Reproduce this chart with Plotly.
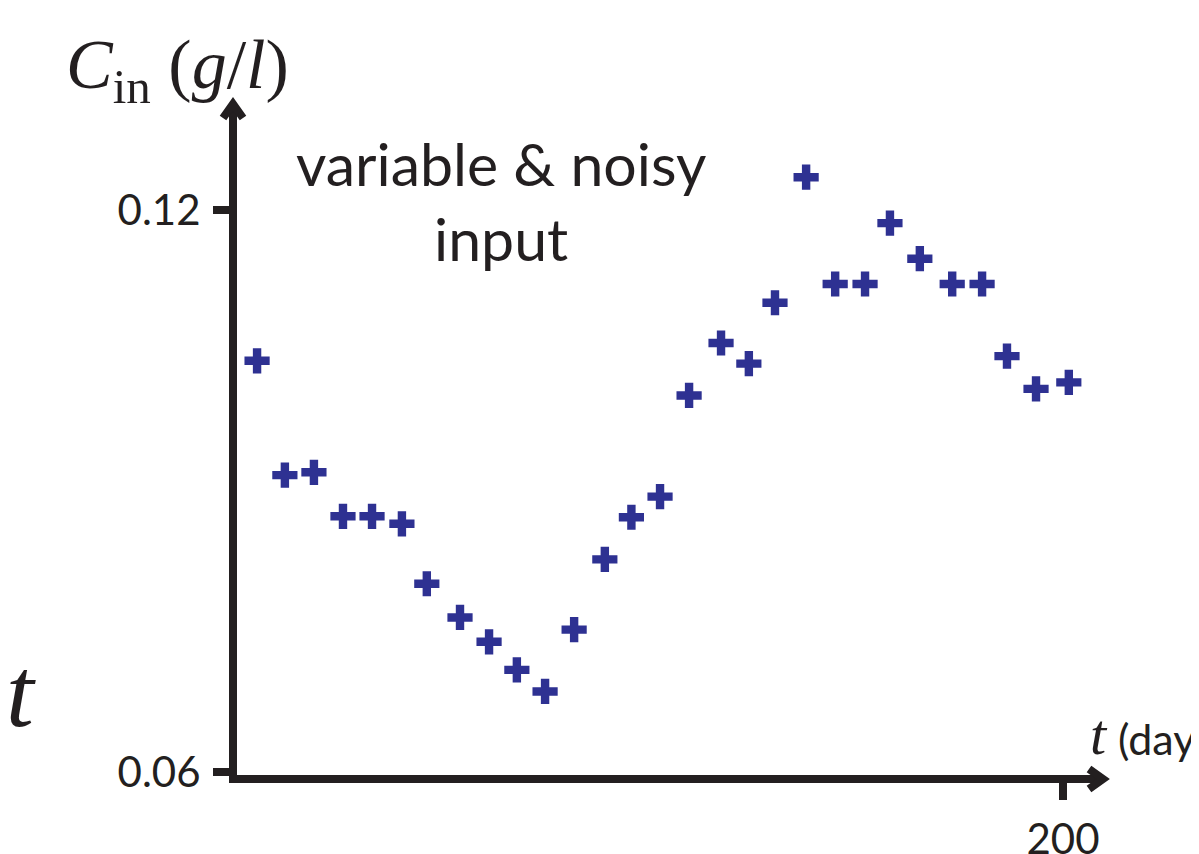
import plotly.graph_objects as go

# ---- data ----
t_days = [5.8, 12.5, 19.5, 26.5, 33.5, 40.7, 46.7, 54.7, 61.7, 68.4, 75.2, 82.2, 89.6, 96.0,
          102.9, 109.9, 117.6, 124.3, 130.6, 138.1, 145.1, 152.3, 158.3, 165.5, 173.3, 180.5,
          186.5, 193.5, 201.4]
c_in = [0.1039, 0.0917, 0.0920, 0.0873, 0.0873, 0.0865, 0.0801, 0.0765, 0.0739, 0.0709,
        0.0686, 0.0752, 0.0827, 0.0872, 0.0894, 0.1002, 0.1058, 0.1036, 0.1101, 0.1235,
        0.1121, 0.1121, 0.1186, 0.1148, 0.1121, 0.1121, 0.1044, 0.1009, 0.1016]
y_tick_vals = [0.06, 0.12]
y_tick_text = ["0.06", "0.12"]
x_tick_vals = [200]
x_tick_text = ["200"]

# ---- layout geometry (pixel values are screen coordinates; the page body adds 8 px) ----
OFF = 8
SW, SH = 1199, 854
W, H = SW - OFF, SH - OFF
PX_PER_DAY = 4.15
PX_PER_UNIT = 9367.0
X0_PX = 233 - OFF      # column of t = 0
Y012_PX = 210 - OFF    # row of C = 0.12
x_lo = -X0_PX / PX_PER_DAY
x_hi = x_lo + W / PX_PER_DAY
y_hi = 0.12 + Y012_PX / PX_PER_UNIT
y_lo = y_hi - H / PX_PER_UNIT


def dx(px):
    return x_lo + (px - OFF) / PX_PER_DAY


def dy(py):
    return y_hi - (py - OFF) / PX_PER_UNIT


def fx(px):
    return (px - OFF) / W


def fy(py):
    return 1 - (py - OFF) / H


INK = "#231F20"
BLUE = "#2E3192"
AXIS_X_PX = 233
AXIS_Y_PX = 779

fig = go.Figure()
fig.add_trace(go.Scatter(
    x=t_days, y=c_in, mode="markers",
    marker=dict(symbol="cross", size=21, color=BLUE, line=dict(width=0)),
    showlegend=False, hoverinfo="skip", cliponaxis=False,
))


def path(points):
    return "M " + " L ".join(f"{dx(a)},{dy(b)}" for a, b in points)


shapes = [
    dict(type="path", xref="x", yref="y",
         path=path([(AXIS_X_PX, 104), (AXIS_X_PX, AXIS_Y_PX), (1103, AXIS_Y_PX)]),
         line=dict(color=INK, width=8)),
    dict(type="path", xref="x", yref="y",
         path=path([(AXIS_X_PX - 10, 118), (AXIS_X_PX, 104), (AXIS_X_PX + 10, 118)]),
         line=dict(color=INK, width=8)),
    dict(type="path", xref="x", yref="y",
         path=path([(1089, AXIS_Y_PX - 10), (1103, AXIS_Y_PX), (1089, AXIS_Y_PX + 10)]),
         line=dict(color=INK, width=8)),
]

serif = "Liberation Serif"
sans = "Lato"

annotations = [
    dict(text="variable &amp; noisy", x=fx(501), y=fy(163), xref="paper", yref="paper",
         showarrow=False, xanchor="center", yanchor="middle",
         font=dict(family=sans, size=59, color=INK)),
    dict(text="input", x=fx(501), y=fy(238), xref="paper", yref="paper",
         showarrow=False, xanchor="center", yanchor="middle",
         font=dict(family=sans, size=59, color=INK)),
    dict(text="<i>C</i><sub>in</sub> (<i>g</i>/<i>l</i>)", x=fx(64), y=fy(70),
         xref="paper", yref="paper", showarrow=False, xanchor="left", yanchor="middle",
         font=dict(family=serif, size=70, color=INK)),
    dict(text="<i>t</i>", x=fx(4), y=fy(692), xref="paper", yref="paper",
         showarrow=False, xanchor="left", yanchor="middle",
         font=dict(family=serif, size=100, color=INK)),
    dict(text="<i>t</i>", x=fx(1088), y=fy(734), xref="paper", yref="paper",
         showarrow=False, xanchor="left", yanchor="middle",
         font=dict(family=serif, size=58, color=INK)),
    dict(text="(days)", x=fx(1116), y=fy(738), xref="paper", yref="paper",
         showarrow=False, xanchor="left", yanchor="middle",
         font=dict(family=sans, size=43, color=INK)),
]

fig.update_layout(
    width=W, height=H,
    margin=dict(l=0, r=0, t=0, b=0, pad=0),
    paper_bgcolor="white", plot_bgcolor="white",
    shapes=shapes, annotations=annotations,
    xaxis=dict(range=[x_lo, x_hi], showgrid=False, zeroline=False, showline=False,
               anchor="free", position=fy(AXIS_Y_PX), automargin=False,
               ticks="outside", ticklen=20, tickwidth=8, tickcolor=INK,
               tickvals=x_tick_vals, ticktext=x_tick_text, ticklabelstandoff=4,
               tickfont=dict(family=sans, size=42, color=INK)),
    yaxis=dict(range=[y_lo, y_hi], showgrid=False, zeroline=False, showline=False,
               anchor="free", position=fx(AXIS_X_PX), automargin=False,
               ticks="outside", ticklen=20, tickwidth=8, tickcolor=INK,
               tickvals=y_tick_vals, ticktext=y_tick_text, ticklabelstandoff=4,
               tickfont=dict(family=sans, size=42, color=INK)),
)

fig.write_html("out.html")
